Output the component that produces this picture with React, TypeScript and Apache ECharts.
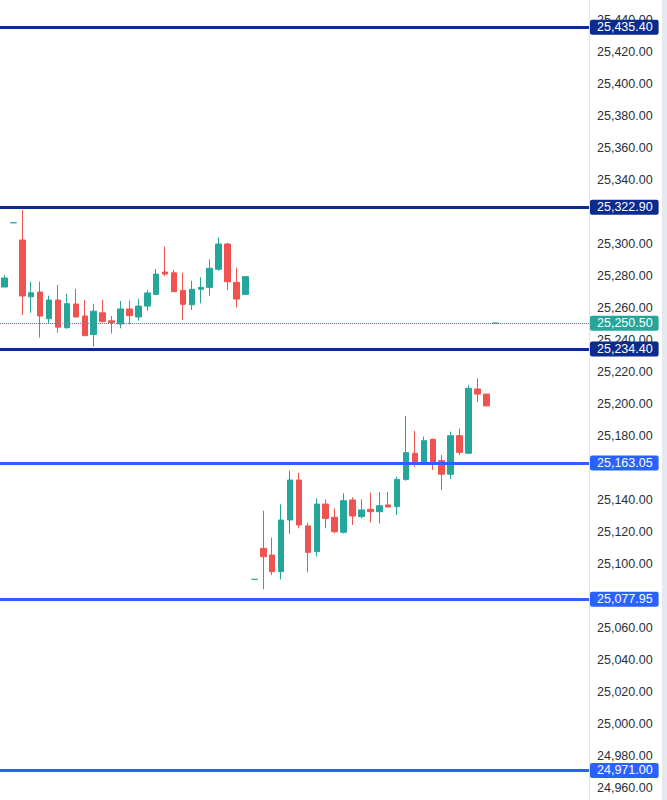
import React, { useEffect, useRef } from "react";
import * as echarts from "echarts";

const opens = [25273.1, 25313.3, 25302.5, 25267, 25270, 25253.3, 25265, 25247.7, 25262.5, 25255, 25243.5, 25257, 25252, 25250, 25259.4, 25254.4, 25261.2, 25268.5, 25282.5, 25282, 25271, 25262, 25271.7, 25272.9, 25284.2, 25300, 25276, 25268.5,
  25090.4, 25109.8, 25105.6, 25095.2, 25127.5, 25152.5, 25123.8, 25107.7, 25137.5, 25129.2, 25119.8, 25140, 25129.6, 25134.2, 25132.7, 25136.9, 25135.8, 25152.9, 25169.2, 25163.6, 25177.9, 25164.6, 25156.1, 25180.2, 25169.2, 25209.4, 25206.2, 25250.5];
const closes = [25278.75, 25313.3, 25267.5, 25269.5, 25255, 25265, 25248, 25262.7, 25254.4, 25242.7, 25258, 25251.5, 25251, 25259.4, 25255.2, 25261.2, 25269.4, 25281.2, 25281.2, 25270.2, 25262.3, 25271.7, 25272.9, 25284.8, 25300, 25276.4, 25265.6, 25279.6,
  25090.4, 25104.6, 25095.2, 25127.5, 25152.5, 25124.4, 25107.3, 25137.5, 25128.5, 25120.2, 25139.6, 25130, 25133.8, 25132.7, 25136.4, 25135.6, 25152.9, 25169.6, 25163.9, 25177.1, 25163, 25156.1, 25180.2, 25169.8, 25209.8, 25206.2, 25198.8, 25250.5];
const lows = [25273.1, 25313.3, 25255.6, 25257, 25241.5, 25250, 25244.6, 25247, 25254, 25242.7, 25235.8, 25251, 25244, 25247.3, 25249.8, 25252, 25258.3, 25268, 25280, 25270, 25252.5, 25258.8, 25262.9, 25267.7, 25283.3, 25271.2, 25260.4, 25268.5,
  25090.4, 25084.2, 25093.1, 25090.4, 25118.8, 25122.3, 25094.8, 25104.6, 25122.3, 25119.2, 25119, 25124.4, 25128.5, 25125.8, 25125.4, 25135.6, 25130.6, 25152, 25160.8, 25162.5, 25158.8, 25146.2, 25153.1, 25168.1, 25169, 25201.4, 25198.8, 25250.5];
const highs = [25280.6, 25313.3, 25321.2, 25276.5, 25276.5, 25267.7, 25274.4, 25269, 25272, 25265, 25262.5, 25265, 25255, 25264.4, 25264.6, 25265.6, 25271.2, 25284.4, 25298.3, 25283.8, 25282, 25277, 25279.2, 25290.4, 25304.2, 25300.8, 25285.2, 25279.6,
  25090.4, 25133.3, 25116.5, 25137.3, 25158.3, 25157, 25125.8, 25141, 25140.4, 25134.8, 25144.2, 25141.7, 25140.4, 25144.6, 25145, 25145, 25154.6, 25192.5, 25183.1, 25179.6, 25178.5, 25168.1, 25182.7, 25184.8, 25211.9, 25216, 25206.2, 25250.5];

const slotCount = 66;
const categories = Array.from({ length: slotCount }, (_, i) => String(i + 1));

const navyLevels = [25435.4, 25322.9, 25234.4];
const blueLevels = [25163.05, 25077.95, 24971.0];
const lastPrice = 25250.5;

const yMin = 24940;
const yMax = 25460;
const yInterval = 20;

const UP = "#26a69a";
const DOWN = "#ef5350";
const NAVY = "#0c2b8e";
const BLUE = "#2962ff";

const fmt = (v: number) =>
  v.toLocaleString("en-US", { minimumFractionDigits: 2, maximumFractionDigits: 2 });

const allLevels = [...navyLevels, ...blueLevels, lastPrice];

export default function App() {
  const ref = useRef<HTMLDivElement>(null);
  useEffect(() => {
    if (!ref.current) return;
    const chart = echarts.init(ref.current, null, { renderer: "svg" });
    const candleData = opens.map((o, i) => [o, closes[i], lows[i], highs[i]]);
    const labelBase = {
      show: true,
      position: "end",
      distance: 1,
      color: "#ffffff",
      fontSize: 12.5,
      fontFamily: "Liberation Sans, Arial, sans-serif",
      padding: [1, 6, 1, 7],
      borderRadius: 2,
      formatter: (p: any) => fmt(p.value),
    };
    const mkLevel = (v: number, color: string) => ({
      yAxis: v,
      lineStyle: { color, width: 3, type: "solid" },
      label: { ...labelBase, backgroundColor: color },
    });
    chart.setOption({
      animation: false,
      grid: { left: 0, right: 78, top: -12, bottom: -20, containLabel: false, outerBoundsMode: "none" },
      xAxis: {
        type: "category",
        data: categories,
        boundaryGap: true,
        show: false,
      },
      yAxis: {
        type: "value",
        position: "right",
        min: yMin,
        max: yMax,
        interval: yInterval,
        axisLine: { show: true, lineStyle: { color: "#e0e3eb", width: 1 } },
        axisTick: { show: false },
        splitLine: { show: false },
        axisLabel: {
          margin: 8,
          color: "#2a2e39",
          fontSize: 12.5,
          fontFamily: "Liberation Sans, Arial, sans-serif",
          showMinLabel: false,
          showMaxLabel: false,
          formatter: (v: number) =>
            allLevels.some((l) => Math.abs(l - v) < 4) ? "" : fmt(v),
        },
      },
      graphic: [
        {
          type: "rect",
          right: 0,
          top: 0,
          shape: { width: 5, height: 800 },
          style: { fill: "#e4e8f1" },
          silent: true,
        },
      ],
      series: [
        {
          type: "candlestick",
          data: candleData,
          barWidth: 6,
          itemStyle: {
            color: UP,
            color0: DOWN,
            borderColor: UP,
            borderColor0: DOWN,
            borderColorDoji: UP,
            borderWidth: 1,
          },
          markLine: {
            silent: true,
            symbol: "none",
            animation: false,
            data: [
              {
                yAxis: lastPrice,
                lineStyle: { color: UP, width: 1, type: "dotted" },
                label: { ...labelBase, backgroundColor: UP },
              },
              ...navyLevels.map((v) => mkLevel(v, NAVY)),
              ...blueLevels.map((v) => mkLevel(v, BLUE)),
            ],
          },
        },
      ],
    });
    return () => chart.dispose();
  }, []);
  return (
    <div
      ref={ref}
      style={{ position: "absolute", left: 0, top: 0, width: 667, height: 800, background: "#ffffff" }}
    />
  );
}
